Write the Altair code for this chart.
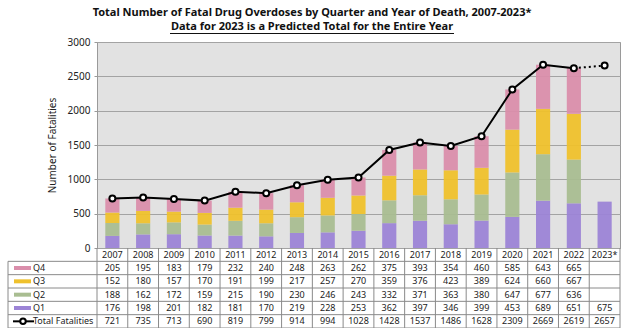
import altair as alt
import pandas as pd

years = ["2007", "2008", "2009", "2010", "2011", "2012", "2013", "2014", "2015",
         "2016", "2017", "2018", "2019", "2020", "2021", "2022", "2023*"]
q4 = [205, 195, 183, 179, 232, 240, 248, 263, 262, 375, 393, 354, 460, 585, 643, 665, None]
q3 = [152, 180, 157, 170, 191, 199, 217, 257, 270, 359, 376, 423, 389, 624, 660, 667, None]
q2 = [188, 162, 172, 159, 215, 190, 230, 246, 243, 332, 371, 363, 380, 647, 677, 636, None]
q1 = [176, 198, 201, 182, 181, 170, 219, 228, 253, 362, 397, 346, 399, 453, 689, 651, 675]
totals = [721, 735, 713, 690, 819, 799, 914, 994, 1028, 1428, 1537, 1486, 1628, 2309, 2669, 2619, 2657]

title_lines = ["Total Number of Fatal Drug Overdoses by Quarter and Year of Death, 2007-2023*",
               "Data for 2023 is a Predicted Total for the Entire Year"]
y_ticks = [0, 500, 1000, 1500, 2000, 2500, 3000]

quarters = ["Q1", "Q2", "Q3", "Q4"]
qcolors = ["#9c84d6", "#a9bd91", "#efc12c", "#da8eab"]
series = {"Q1": q1, "Q2": q2, "Q3": q3, "Q4": q4}
row_names = ["header", "Q4", "Q3", "Q2", "Q1", "Total"]
row_labels = {"Q4": "Q4", "Q3": "Q3", "Q2": "Q2", "Q1": "Q1", "Total": "Total Fatalities"}

FONT = "Noto Sans"
W, H = 523, 206
TH = 80  # table height

# ---- data frames
bar_rows = []
for q in quarters:
    for i, y in enumerate(years):
        v = series[q][i]
        if v is not None:
            bar_rows.append({"year": y, "quarter": q, "value": v, "ord": quarters.index(q)})
bars_df = pd.DataFrame(bar_rows)

tot_df = pd.DataFrame({"year": years, "total": totals})
solid_df = tot_df.iloc[:-1]
dot_df = tot_df.iloc[-2:]

cells = []
for i, y in enumerate(years):
    cells.append({"year": y, "row": "header", "txt": y})
    for q in ["Q4", "Q3", "Q2", "Q1"]:
        v = series[q][i]
        cells.append({"year": y, "row": q, "txt": "" if v is None else str(v)})
    cells.append({"year": y, "row": "Total", "txt": str(totals[i])})
cells_df = pd.DataFrame(cells)

labels_df = pd.DataFrame({"row": list(row_labels.keys()), "label": list(row_labels.values())})
swatch_df = pd.DataFrame({"row": ["Q4", "Q3", "Q2", "Q1"], "quarter": ["Q4", "Q3", "Q2", "Q1"]})

xscale = alt.Scale(domain=years, paddingInner=0, paddingOuter=0)
yscale = alt.Scale(domain=[0, 3000], nice=False)
color = alt.Color("quarter:N", scale=alt.Scale(domain=quarters, range=qcolors), legend=None)
yaxis = alt.Axis(values=y_ticks, format="d", title="Number of Fatalities",
                 titleFontSize=10, titleFontWeight="normal", titleColor="#222",
                 labelFontSize=10, labelColor="#222", labelPadding=4, labelOverlap=False,
                 tickColor="#999", tickSize=3, domain=False,
                 grid=True, gridColor="#a3a3a3", titlePadding=10)

# ---- main plot
bars = alt.Chart(bars_df).mark_bar(width=alt.RelativeBandSize(0.46), opacity=0.95).encode(
    x=alt.X("year:N", scale=xscale, axis=None, sort=years),
    y=alt.Y("sum(value):Q", scale=yscale, axis=yaxis),
    color=color,
    order=alt.Order("ord:Q"),
)
line_solid = alt.Chart(solid_df).mark_line(color="black", strokeWidth=2).encode(
    x=alt.X("year:N", sort=years), y=alt.Y("total:Q", scale=yscale, axis=yaxis))
line_dot = alt.Chart(dot_df).mark_line(color="black", strokeWidth=2, strokeDash=[2, 3]).encode(
    x=alt.X("year:N", sort=years), y=alt.Y("total:Q", scale=yscale, axis=yaxis))
points = alt.Chart(tot_df).mark_point(shape="circle", filled=True, fill="white", stroke="black",
                                      strokeWidth=2, size=36, opacity=1).encode(
    x=alt.X("year:N", sort=years), y=alt.Y("total:Q", scale=yscale, axis=yaxis))

main = alt.layer(bars, line_solid, line_dot, points)

# ---- data table below the plot
rscale = alt.Scale(type="band", domain=row_names, range=[H, H + TH], paddingInner=0, paddingOuter=0)

cell_text = alt.Chart(cells_df).mark_text(font=FONT, fontSize=9, color="#222", baseline="middle").encode(
    x=alt.X("year:N", sort=years, bandPosition=0.5),
    y=alt.Y("row:N", scale=rscale, axis=None, bandPosition=0.5),
    text="txt:N",
)
label_text = alt.Chart(labels_df).mark_text(font=FONT, fontSize=9, color="#222", align="left",
                                            baseline="middle").encode(
    x=alt.value(-64),
    y=alt.Y("row:N", scale=rscale, axis=None, bandPosition=0.5),
    text="label:N",
)
swatches = alt.Chart(swatch_df).mark_rule(strokeWidth=4).encode(
    x=alt.value(-83), x2=alt.value(-66),
    y=alt.Y("row:N", scale=rscale, axis=None, bandPosition=0.5),
    color=color,
)
tot_sw_line = alt.Chart(pd.DataFrame({"row": ["Total"]})).mark_rule(strokeWidth=2, color="black").encode(
    x=alt.value(-84), x2=alt.value(-63),
    y=alt.Y("row:N", scale=rscale, axis=None, bandPosition=0.5),
)
tot_sw_pt = alt.Chart(pd.DataFrame({"row": ["Total"]})).mark_point(
    shape="circle", filled=True, fill="white", stroke="black", strokeWidth=2, size=30, opacity=1).encode(
    x=alt.value(-74),
    y=alt.Y("row:N", scale=rscale, axis=None, bandPosition=0.5),
)
hlines = alt.Chart(pd.DataFrame({"row": ["Q4", "Q3", "Q2", "Q1", "Total"]})).mark_rule(
    color="#8a8a8a", strokeWidth=1).encode(
    x=alt.value(-89), x2=alt.value(W),
    y=alt.Y("row:N", scale=rscale, axis=None, bandPosition=0),
)
hbottom = alt.Chart(pd.DataFrame({"row": ["Total"]})).mark_rule(color="#8a8a8a", strokeWidth=1).encode(
    x=alt.value(-89), x2=alt.value(W),
    y=alt.Y("row:N", scale=rscale, axis=None, bandPosition=1),
)
vlines = alt.Chart(pd.DataFrame({"year": years})).mark_rule(color="#8a8a8a", strokeWidth=1).encode(
    x=alt.X("year:N", sort=years, bandPosition=0),
    y=alt.value(H), y2=alt.value(H + TH),
)
vright = alt.Chart(pd.DataFrame({"year": [years[-1]]})).mark_rule(color="#8a8a8a", strokeWidth=1).encode(
    x=alt.X("year:N", sort=years, bandPosition=1),
    y=alt.value(H), y2=alt.value(H + TH),
)
vleft = alt.Chart(pd.DataFrame({"row": ["Q4"]})).mark_rule(color="#8a8a8a", strokeWidth=1).encode(
    x=alt.value(-89),
    y=alt.Y("row:N", scale=rscale, axis=None, bandPosition=0),
    y2=alt.value(H + TH),
)

# ---- title lines drawn as text, second one underlined
title1 = alt.Chart(pd.DataFrame({"t": [title_lines[0]]})).mark_text(
    font=FONT, fontSize=11, fontWeight="bold", color="#111", baseline="middle").encode(
    x=alt.value(215), y=alt.value(-29), text="t:N")
title2 = alt.Chart(pd.DataFrame({"t": [title_lines[1]]})).mark_text(
    font=FONT, fontSize=11, fontWeight="bold", color="#111", baseline="middle").encode(
    x=alt.value(215), y=alt.value(-15), text="t:N")
underline = alt.Chart(pd.DataFrame({"t": [title_lines[1]]})).mark_rule(color="#111", strokeWidth=1).encode(
    x=alt.value(73), x2=alt.value(357), y=alt.value(-8.5))

table = alt.layer(hlines, hbottom, vlines, vright, vleft, swatches, tot_sw_line, tot_sw_pt,
                  cell_text, label_text, title1, title2, underline)

chart = alt.layer(main, table).resolve_scale(y="independent", color="shared").properties(
    width=W, height=H,
    autosize=alt.AutoSizeParams(type="none"),
    padding={"left": 97, "top": 42, "right": 1, "bottom": 80},
    background="white",
).configure_view(
    fill="#e2e2e2", stroke="#9a9a9a", strokeWidth=1
).configure_axis(
    labelFont=FONT, titleFont=FONT
)

chart.save("out.html", embed_options={"renderer": "svg", "actions": False})
